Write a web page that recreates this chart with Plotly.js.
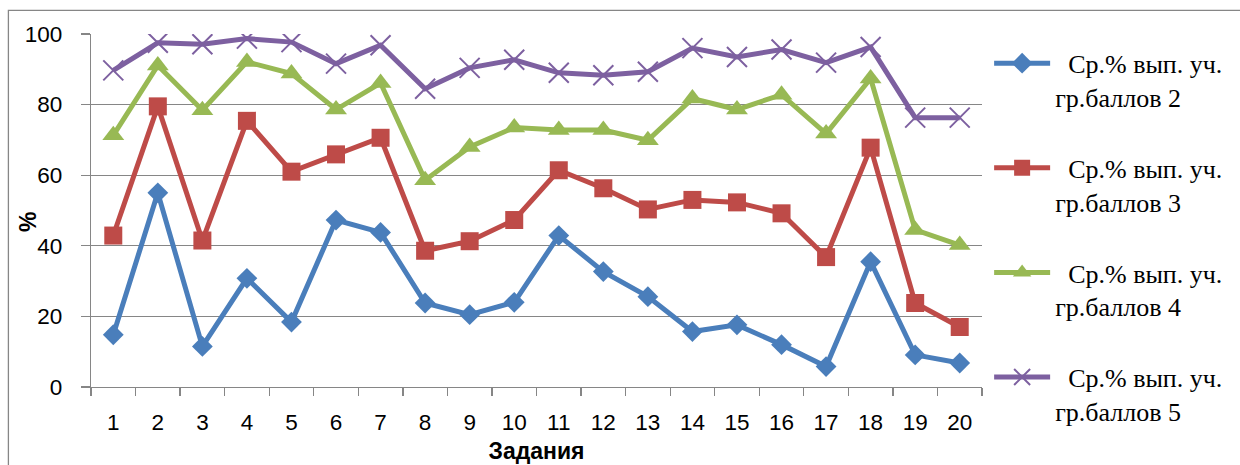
<!DOCTYPE html>
<html>
<head>
<meta charset="utf-8">
<script src="https://cdn.plot.ly/plotly-3.0.1.min.js"></script>
<style>
html,body{margin:0;padding:0;background:#fff;}
#chart{width:1240px;height:465px;}
</style>
</head>
<body>
<div id="chart"></div>
<script>
const tasks = ['1','2','3','4','5','6','7','8','9','10','11','12','13','14','15','16','17','18','19','20'];
const grade2 = [14.8, 55.0, 11.5, 30.8, 18.4, 47.3, 43.8, 23.8, 20.5, 24.0, 42.9, 32.7, 25.6, 15.7, 17.6, 12.0, 5.8, 35.5, 9.1, 6.8];
const grade3 = [42.9, 79.5, 41.5, 75.4, 61.0, 65.9, 70.6, 38.6, 41.3, 47.3, 61.4, 56.3, 50.3, 53.0, 52.3, 49.2, 36.8, 67.8, 23.8, 17.0];
const grade4 = [71.3, 91.1, 78.4, 92.1, 88.8, 78.6, 86.1, 58.6, 68.0, 73.5, 72.8, 72.8, 69.9, 81.7, 78.6, 82.8, 71.8, 87.4, 44.5, 40.2];
const grade5 = [89.7, 97.5, 97.1, 98.7, 97.7, 91.6, 96.8, 84.5, 90.4, 92.7, 89.0, 88.3, 89.3, 96.0, 93.5, 95.6, 91.9, 96.3, 76.3, 76.3];
const seriesNames = [
  '\u00A0\u00A0Ср.% вып. уч.<br>гр.баллов 2',
  '\u00A0\u00A0Ср.% вып. уч.<br>гр.баллов 3',
  '\u00A0\u00A0Ср.% вып. уч.<br>гр.баллов 4',
  '\u00A0\u00A0Ср.% вып. уч.<br>гр.баллов 5'
];
const yTicks = [0, 20, 40, 60, 80, 100];

const colors = ['#4A7EBB', '#BE4B48', '#98B954', '#7D60A0'];
const symbols = ['diamond', 'square', 'triangle-up', 'x-thin-open'];
const sizes = [16, 18, 19, 20];
const data = [grade2, grade3, grade4, grade5].map((vals, i) => ({
  type: 'scatter',
  mode: 'lines+markers',
  x: tasks,
  y: vals,
  name: seriesNames[i],
  legendgroup: 'g' + i,
  line: {color: colors[i], width: 5},
  marker: {
    symbol: symbols[i],
    size: sizes[i],
    color: colors[i],
    line: {color: colors[i], width: i === 3 ? 2 : 0}
  }
}));

const sans = '"Liberation Sans", Arial, sans-serif';
const layout = {
  width: 1240,
  height: 465,
  margin: {l: 91, r: 258, t: 34, b: 78},
  paper_bgcolor: '#ffffff',
  plot_bgcolor: '#ffffff',
  showlegend: true,
  legend: {
    x: 1.008,
    y: 0.9835,
    xanchor: 'left',
    yanchor: 'top',
    valign: 'top',
    itemwidth: 56,
    tracegroupgap: 34,
    maxheight: 460,
    font: {family: '"Liberation Serif", "Times New Roman", serif', size: 26, color: '#000'},
    bgcolor: 'rgba(0,0,0,0)'
  },
  xaxis: {
    type: 'category',
    tickvals: tasks,
    ticktext: tasks,
    range: [-0.5, 19.5],
    tickson: 'boundaries',
    ticks: 'outside',
    ticklen: 8,
    tickcolor: '#868686',
    tickwidth: 1.3,
    showline: true,
    linecolor: '#868686',
    linewidth: 1.3,
    showgrid: false,
    zeroline: false,
    ticklabelstandoff: 15,
    tickfont: {family: sans, size: 22.5, color: '#000'},
    title: {text: '<b>Задания</b>', standoff: 8, font: {family: sans, size: 23, color: '#000'}}
  },
  yaxis: {
    range: [0, 100],
    tickvals: yTicks,
    ticks: 'outside',
    ticklen: 9,
    tickcolor: '#868686',
    tickwidth: 1.3,
    showline: true,
    linecolor: '#868686',
    linewidth: 1.3,
    showgrid: true,
    gridcolor: '#868686',
    gridwidth: 1.3,
    zeroline: false,
    ticklabelstandoff: 14,
    tickfont: {family: sans, size: 22.5, color: '#000'}
  },
  annotations: [{
    text: '<b>%</b>', xref: 'paper', yref: 'paper',
    x: (28 - 91) / 891, y: (387.3 - 222) / 353.6,
    xanchor: 'center', yanchor: 'middle', textangle: -90, showarrow: false,
    font: {family: sans, size: 23, color: '#000'}
  }],
  shapes: [{
    type: 'rect', xref: 'paper', yref: 'paper',
    x0: -0.0927, x1: 1.5, y0: -0.4, y1: 1.067,
    line: {color: '#868686', width: 1.3},
    fillcolor: 'rgba(0,0,0,0)', layer: 'below'
  }]
};

Plotly.newPlot('chart', data, layout, {displayModeBar: false, staticPlot: true});
</script>
</body>
</html>
